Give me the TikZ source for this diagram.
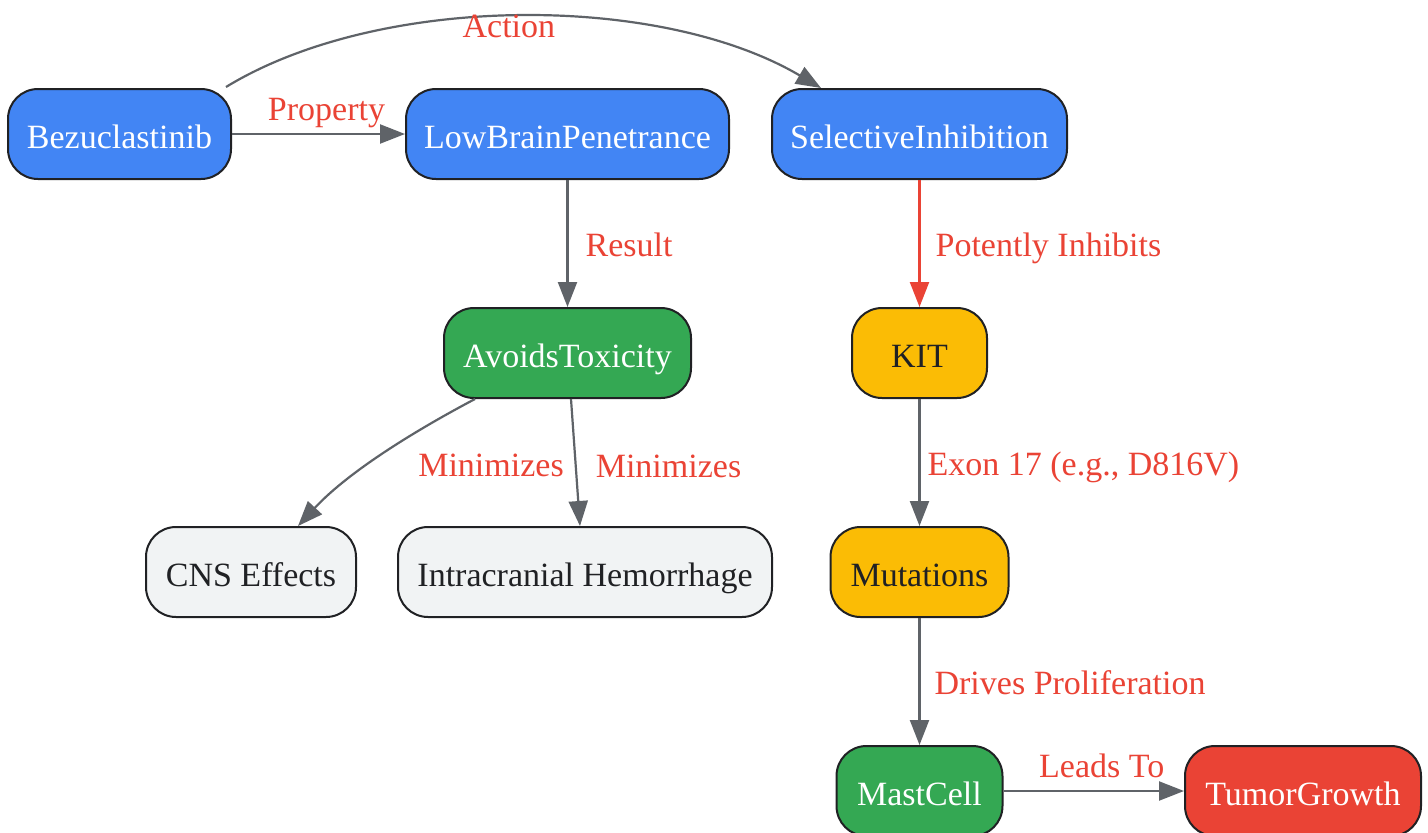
\documentclass[tikz,border=0pt]{standalone}
\usepackage{fontspec}
\setmainfont{Liberation Serif}
\usetikzlibrary{arrows.meta,calc}
\definecolor{gblue}{HTML}{4285F4}
\definecolor{ggreen}{HTML}{34A853}
\definecolor{gyellow}{HTML}{FBBC05}
\definecolor{gred}{HTML}{EA4335}
\definecolor{ggrey}{HTML}{F1F3F4}
\definecolor{edgegrey}{HTML}{5F6368}
\definecolor{darktext}{HTML}{202124}
\tikzset{
  box/.style={draw=darktext, line width=2pt, rounded corners=30pt, minimum height=90pt,
    inner sep=0pt, text height=31pt, text depth=3pt, font=\fontsize{34}{40}\selectfont},
  bluebox/.style={box, fill=gblue, text=white},
  greenbox/.style={box, fill=ggreen, text=white},
  yellowbox/.style={box, fill=gyellow, text=darktext},
  redbox/.style={box, fill=gred, text=white},
  greybox/.style={box, fill=ggrey, text=darktext},
  conn/.style={draw=edgegrey, line width=2.2pt, -{Triangle[length=25pt,width=19pt]}},
  redconn/.style={conn, draw=gred, -{Triangle[length=25pt,width=19pt,fill=gred]}},
  lbl/.style={text=gred, inner sep=2pt, text height=28pt, text depth=3pt, font=\fontsize{34}{40}\selectfont},
}
\begin{document}
\begin{tikzpicture}[x=1pt,y=-1pt]
\useasboundingbox[fill=white] (0,0) rectangle (1428,833);
\node[bluebox, minimum width=223pt] (bez) at (119.5,134) {Bezuclastinib};
\node[bluebox, minimum width=323pt] (low) at (567.5,134) {LowBrainPenetrance};
\node[bluebox, minimum width=295pt] (sel) at (919.5,134) {SelectiveInhibition};
\node[greenbox, minimum width=247pt] (avoid) at (567.5,353) {AvoidsToxicity};
\node[yellowbox, minimum width=135pt] (kit) at (919.5,353) {KIT};
\node[greybox, minimum width=210pt] (cns) at (251,572) {CNS Effects};
\node[greybox, minimum width=374pt] (intra) at (585,572) {Intracranial Hemorrhage};
\node[yellowbox, minimum width=178pt] (mut) at (919.5,572) {Mutations};
\node[greenbox, minimum width=166pt] (mast) at (919.5,791) {MastCell};
\node[redbox, minimum width=236pt] (tumor) at (1303,791) {TumorGrowth};

\draw[conn] (bez.east) -- node[lbl, pos=0.5, xshift=8pt, yshift=26pt] {Property} (low.west);
\draw[conn] ($(bez.north east)+(-6,-1)$) .. controls (380,-7) and (660,-7) .. ($(sel.north west)+(50,0)$)
  node[lbl, pos=0.5, xshift=-12pt, yshift=-8pt] {Action};
\draw[conn] (low.south) -- node[lbl, anchor=west, xshift=15pt] {Result} (avoid.north);
\draw[redconn] (sel.south) -- node[lbl, anchor=west, xshift=13pt] {Potently Inhibits} (kit.north);
\draw[conn] ($(avoid.south west)+(32,0)$) .. controls (420,428) and (350,470) .. ($(cns.north)+(47,0)$);
\node[lbl] (m1) at (491,464) {Minimizes};
\draw[conn] ($(avoid.south)+(3.5,0)$) -- ($(intra.north)+(-5,0)$)
  node[lbl, pos=0.52, anchor=west, xshift=17pt] {Minimizes};
\draw[conn] (kit.south) -- node[lbl, anchor=west, xshift=5pt] {Exon 17 (e.g., D816V)} (mut.north);
\draw[conn] (mut.south) -- node[lbl, anchor=west, xshift=12pt] {Drives Proliferation} (mast.north);
\draw[conn] (mast.east) -- node[lbl, pos=0.5, xshift=8pt, yshift=26pt] {Leads To} (tumor.west);
\end{tikzpicture}
\end{document}
